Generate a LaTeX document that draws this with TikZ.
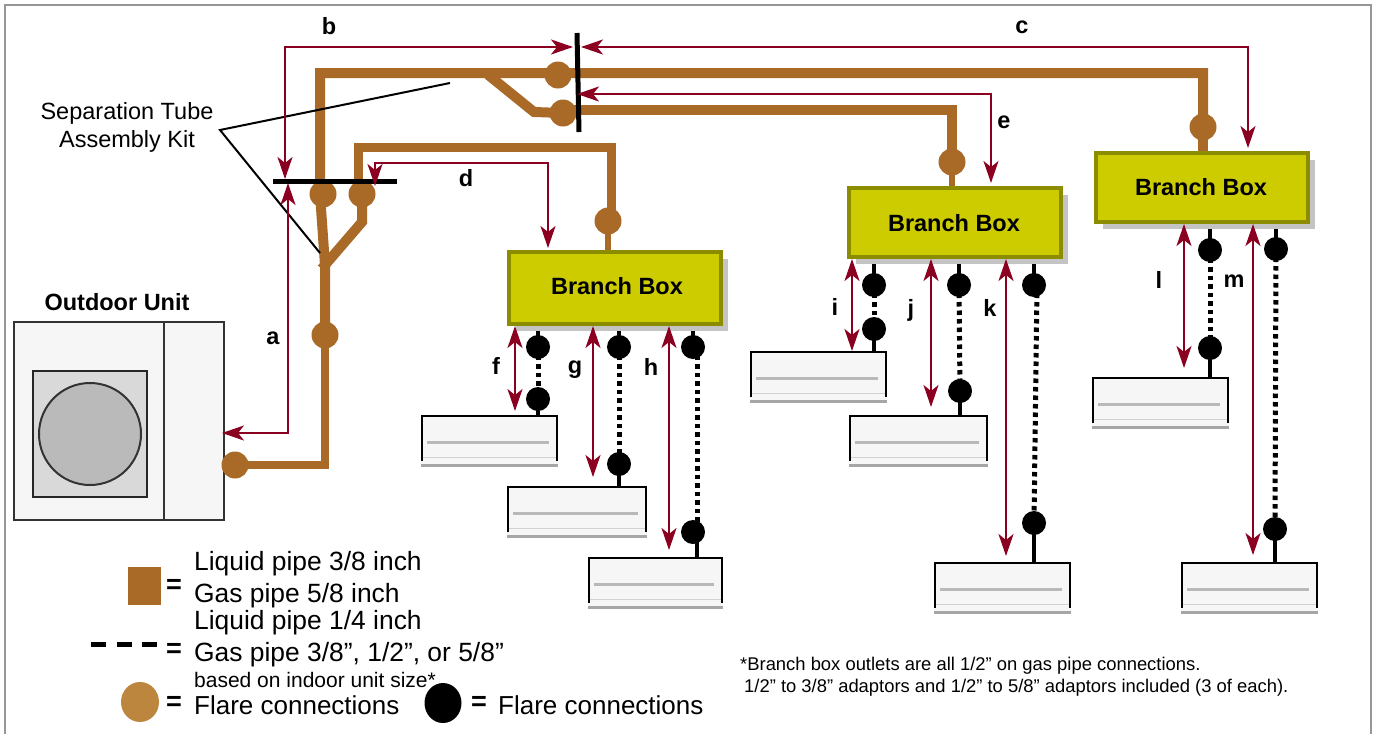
\documentclass[tikz,border=0pt]{standalone}
\usepackage{fontspec}
\setmainfont{Liberation Sans}
\usetikzlibrary{backgrounds,calc,arrows.meta,shadows,shapes.geometric}
\definecolor{pipebrown}{HTML}{A96A28}
\definecolor{flarebrown}{HTML}{BC863E}
\definecolor{dimred}{HTML}{8B0021}
\definecolor{boxfill}{HTML}{CCCC00}
\definecolor{boxedge}{HTML}{8C8C00}
\definecolor{shadowgray}{HTML}{C4C4C4}
\definecolor{unitfill}{HTML}{F6F6F6}
\definecolor{framegray}{HTML}{969696}
\tikzset{>={Stealth[length=22pt,width=15pt,inset=6pt]}}
\tikzset{
    pipe/.style={draw=pipebrown, line width=10pt, line cap=rect},
    thinpipe/.style={draw=pipebrown, line width=8pt},
    stubpipe/.style={draw=pipebrown, line width=6.5pt},
    flareb/.style={circle, fill=pipebrown, inner sep=0pt, minimum size=27pt},
    flarek/.style={circle, fill=black, inner sep=0pt, minimum size=24pt},
    port/.style={draw=black, line width=4.5pt},
    tubing/.style={draw=black, line width=5pt, dash pattern=on 4.5pt off 4pt},
    bar/.style={draw=black, line width=5pt},
    leader/.style={draw=black, line width=2pt},
    dim/.style={draw=dimred, line width=2.2pt},
    branchbox/.style={rectangle, fill=boxfill, draw=boxedge, line width=4pt, inner sep=0pt,
        minimum width=212pt, minimum height=69pt,
        drop shadow={shadow xshift=7pt, shadow yshift=-7pt, fill=shadowgray, opacity=1}},
    indoorunit/.style={rectangle, fill=unitfill, inner sep=0pt, anchor=north west,
        minimum width=137pt, minimum height=51pt,
        path picture={
            \draw[black, line width=2pt] ($(path picture bounding box.south west)+(1,-5)$) -- ($(path picture bounding box.north west)+(1,1)$) -- ($(path picture bounding box.north east)+(-1,1)$) -- ($(path picture bounding box.south east)+(-1,-5)$);
            \draw[gray!55, line width=2.5pt] ($(path picture bounding box.west)+(6,2)$) -- ($(path picture bounding box.east)+(-9,2)$);
            \draw[gray!35, line width=1pt] ($(path picture bounding box.south west)+(2,-9)$) -- ($(path picture bounding box.south east)+(-2,-9)$);
            \draw[gray!70, line width=3pt] ($(path picture bounding box.south west)+(0,-1)$) -- ($(path picture bounding box.south east)+(0,-1)$);
        }},
    boldlabel/.style={font=\bfseries\fontsize{23.5}{26}\selectfont, inner sep=0pt},
    plainlabel/.style={font=\fontsize{26.4}{29}\selectfont, inner sep=0pt, anchor=west},
    flarelabel/.style={font=\fontsize{26}{29}\selectfont, inner sep=0pt, anchor=west},
    eqsign/.style={font=\bfseries\fontsize{27}{30}\selectfont, inner sep=0pt},
    footnote/.style={font=\fontsize{18.4}{21}\selectfont, inner sep=0pt, anchor=west}
}
\begin{document}
\begin{tikzpicture}[x=1pt, y=-1pt]

    \useasboundingbox (0,0) rectangle (1379,734);
    \draw[framegray, line width=2.5pt] (5,734) -- (5,5) -- (1371,5) -- (1371,734);

    % outdoor unit
    \node[draw=black!80, fill=unitfill, line width=2pt, anchor=north west, inner sep=0pt, minimum width=210pt, minimum height=198pt] (outdoor) at (13,321) {};
    \draw[black!80, line width=2pt] (outdoor.north west -| 164,0) -- (outdoor.south west -| 164,0);
    \node[draw=black!85, fill=black!15, line width=2pt, anchor=north west, inner sep=0pt, minimum width=114pt, minimum height=126pt] (fanbox) at (32,370) {};
    \node[circle, draw=black!80, fill=black!27, line width=2pt, inner sep=0pt, minimum size=102pt] (fan) at (fanbox.center) {};
    \node[boldlabel] (outdoorlabel) at (117,302) {Outdoor Unit};

    % branch boxes
    \node[branchbox, minimum height=72pt] (boxa) at (615,288) {};
    \node[boldlabel] (boxatext) at (617,286) {Branch Box};
    \node[branchbox] (boxb) at (955,222.5) {};
    \node[boldlabel] (boxbtext) at (954,223) {Branch Box};
    \node[branchbox] (boxc) at (1202,187.5) {};
    \node[boldlabel] (boxctext) at (1201,187) {Branch Box};

    % indoor units
    \node[indoorunit] (unitf) at (421,415) {};
    \node[indoorunit, minimum width=140pt] (unitg) at (507,486) {};
    \node[indoorunit, minimum width=135pt] (unith) at (588,557) {};
    \node[indoorunit] (uniti) at (750,351) {};
    \node[indoorunit, minimum width=139pt] (unitj) at (849,415) {};
    \node[indoorunit] (unitk) at (934,562) {};
    \node[indoorunit] (unitl) at (1092,377) {};
    \node[indoorunit] (unitm) at (1181,562) {};

    % brown flares
    \node[flareb] (flarea) at (235,465) {};
    \node[flareb] (flarev) at (325,335) {};
    \node[flareb] (flareu) at (323,194) {};
    \node[flareb] (flarew) at (362,194) {};
    \node[flareb] (flaretop) at (558,75) {};
    \node[flareb] (flaremid) at (563,113) {};
    \node[flareb] (flared) at (608,221) {};
    \node[flareb] (flaree) at (952,162) {};
    \node[flareb] (flarec) at (1203,127) {};

    % black flares
    \node[flarek] (topf) at (538,347) {};
    \node[flarek] (lowf) at (538,399) {};
    \node[flarek] (topg) at (619,347) {};
    \node[flarek] (lowg) at (619,464) {};
    \node[flarek] (toph) at (693,347) {};
    \node[flarek] (lowh) at (693,532) {};
    \node[flarek] (topi) at (874,285) {};
    \node[flarek] (lowi) at (874,329) {};
    \node[flarek] (topj) at (959,285) {};
    \node[flarek] (lowj) at (960,391) {};
    \node[flarek] (topk) at (1034,285) {};
    \node[flarek] (lowk) at (1034,523) {};
    \node[flarek] (topl) at (1210,250) {};
    \node[flarek] (lowl) at (1210,348) {};
    \node[flarek] (topm) at (1276,249) {};
    \node[flarek] (lowm) at (1275,529) {};

    % points on the pipes and the two bars
    \coordinate (bendlow) at (325,465);
    \coordinate (forklow) at (325,265);
    \coordinate (bendtop) at (320,73);
    \coordinate (forkup) at (362,222);
    \coordinate (splitstart) at (492,78);
    \coordinate (splitend) at (534,112);
    \coordinate (rightc) at (1203,73);
    \coordinate (righte) at (952,110);
    \coordinate (dbendl) at (358,147);
    \coordinate (dbendr) at (611,147);
    \coordinate (vbartop) at (577,33);
    \coordinate (vbarlow) at (579,132);
    \coordinate (hbarl) at (273,181);
    \coordinate (hbarr) at (397,181);
    \coordinate (leadtop) at (450,83);
    \coordinate (leadmid) at (220,130);
    \coordinate (leadlow) at (320,253);

    \begin{scope}[on background layer]
        \draw[thinpipe] (flarea.center) -- (bendlow) -- (flarev.center);
        \draw[pipe] (flarev.center) -- (forklow) -- (bendtop |- flareu.center) -- (bendtop) -- (rightc) -- (rightc |- flarec.center);
        \draw[pipe] (splitstart) -- (splitend) -- (flaremid.center);
        \draw[pipe] (flaremid.center |- righte) -- (righte) -- (righte |- flaree.center);
        \draw[pipe] (flarew.center) -- (forkup) -- (forklow);
        \draw[pipe, line width=9pt] (dbendl |- flarew.center) -- (dbendl) -- (dbendr) -- (dbendr |- flared.center);
        \draw[stubpipe] (flared.center) -- (flared.center |- boxa.north);
        \draw[stubpipe] (flaree.center) -- (flaree.center |- boxb.north);
        \draw[pipe, line cap=butt] (flarec.center) -- (flarec.center |- boxc.north);

        \draw[port] (topf |- boxa.south) -- (topf.center);
        \draw[tubing] (topf.center) -- (lowf.center);
        \draw[port] (lowf.center) -- (lowf |- unitf.north);
        \draw[port] (topg |- boxa.south) -- (topg.center);
        \draw[tubing] (topg.center) -- (lowg.center);
        \draw[port] (lowg.center) -- (lowg |- unitg.north);
        \draw[port] (toph |- boxa.south) -- (toph.center);
        \draw[tubing] ($(toph.center)+(4,0)$) -- ($(lowh.center)+(4,0)$);
        \draw[port] ($(lowh.center)+(4,0)$) -- ($(lowh |- unith.north)+(4,0)$);
        \draw[port] (topi |- boxb.south) -- (topi.center);
        \draw[tubing] (topi.center) -- (lowi.center);
        \draw[port] (lowi.center) -- (lowi |- uniti.north);
        \draw[port] (topj |- boxb.south) -- (topj.center);
        \draw[tubing] (topj.center) -- (lowj.center);
        \draw[port] (lowj.center) -- (lowj |- unitj.north);
        \draw[port] (topk |- boxb.south) -- (topk.center);
        \draw[tubing] ($(topk.center)+(3,0)$) -- ($(lowk.center)+(0,0)$);
        \draw[port] (lowk.center) -- (lowk |- unitk.north);
        \draw[port] (topl |- boxc.south) -- (topl.center);
        \draw[tubing] (topl.center) -- (lowl.center);
        \draw[port] (lowl.center) -- (lowl |- unitl.north);
        \draw[port] (topm |- boxc.south) -- (topm.center);
        \draw[tubing] (topm.center) -- (lowm.center);
        \draw[port] (lowm.center) -- (lowm |- unitm.north);
    \end{scope}

    \draw[bar] (vbartop) -- (vbarlow);
    \draw[bar] (hbarl) -- (hbarr);
    \draw[leader] (leadtop) -- (leadmid) -- (leadlow);

    % dimension arrows
    \coordinate (tipa) at (222,433);
    \coordinate (bara) at (288,183);
    \coordinate (tipb) at (285,179);
    \coordinate (cornerb) at (285,47);
    \coordinate (tipbr) at (573,47);
    \coordinate (tipc) at (581,47);
    \coordinate (tipcd) at (1248,148);
    \coordinate (tipd) at (375,186);
    \coordinate (cornerd) at (375,163);
    \coordinate (tipdd) at (548,248);
    \coordinate (tipe) at (577,94);
    \coordinate (tiped) at (991,183);

    \draw[dim, <->] (tipa) -- (tipa -| bara) -- (bara);
    \draw[dim, <->] (tipb) -- (cornerb) -- (tipbr);
    \draw[dim, <->] (tipc) -- (tipc -| tipcd) -- (tipcd);
    \draw[dim, <->] (tipd) -- (cornerd) -- (tipdd |- cornerd) -- (tipdd);
    \draw[dim, <->] (tipe) -- (tipe -| tiped) -- (tiped);

    \coordinate (endf) at (515,411);
    \coordinate (endg) at (593,477);
    \coordinate (endh) at (669,550);
    \coordinate (endi) at (852,351);
    \coordinate (endj) at (931,407);
    \coordinate (endk) at (1006,556);
    \coordinate (endl) at (1184,368);
    \coordinate (endm) at (1253,555);
    \draw[dim, <->] (boxa.south -| endf) -- (endf);
    \draw[dim, <->] (boxa.south -| endg) -- (endg);
    \draw[dim, <->] (boxa.south -| endh) -- (endh);
    \draw[dim, <->] (boxb.south -| endi) -- (endi);
    \draw[dim, <->] (boxb.south -| endj) -- (endj);
    \draw[dim, <->] (boxb.south -| endk) -- (endk);
    \draw[dim, <->] (boxc.south -| endl) -- (endl);
    \draw[dim, <->] (boxc.south -| endm) -- (endm);

    % letters
    \node[boldlabel] (la) at (273,338) {a};
    \node[boldlabel] (lb) at (329,26) {b};
    \node[boldlabel] (lc) at (1022,27) {c};
    \node[boldlabel] (ld) at (466,178) {d};
    \node[boldlabel] (le) at (1004,122) {e};
    \node[boldlabel] (lf) at (496,366) {f};
    \node[boldlabel] (lg) at (575,370) {g};
    \node[boldlabel] (lh) at (651,367) {h};
    \node[boldlabel] (li) at (835,307) {i};
    \node[boldlabel] (lj) at (911,310) {j};
    \node[boldlabel] (lk) at (990,308) {k};
    \node[boldlabel] (ll) at (1159,280) {l};
    \node[boldlabel] (lm) at (1234,281) {m};

    \node[font=\fontsize{23.5}{28}\selectfont, align=center, inner sep=0pt] (kitlabel) at (127,127) {Separation Tube\\Assembly Kit};

    % legend
    \node[fill=pipebrown, inner sep=0pt, minimum width=33pt, minimum height=38pt] (legpipe) at (144,586) {};
    \node[eqsign] (eqa) at (174,586) {=};
    \node[plainlabel] (liqa) at (194,564) {Liquid pipe 3/8 inch};
    \node[plainlabel] (gasa) at (194,596) {Gas pipe 5/8 inch};
    \node[plainlabel] (liqb) at (194,623) {Liquid pipe 1/4 inch};
    \node[plainlabel] (gasb) at (194,655) {Gas pipe 3/8”, 1/2”, or 5/8”};
    \coordinate (legdasha) at (91,644);
    \coordinate (legdashb) at (157,644);
    \draw[black, line width=5pt, dash pattern=on 15pt off 10.5pt] (legdasha) -- (legdashb);
    \node[eqsign] (eqb) at (174,650) {=};
    \node[plainlabel, font=\fontsize{21}{24}\selectfont] (sizenote) at (194,680) {based on indoor unit size*};
    \node[ellipse, fill=flarebrown, inner sep=0pt, minimum width=38pt, minimum height=40pt] (legflareb) at (140,702) {};
    \node[eqsign] (eqc) at (174,703) {=};
    \node[flarelabel] (flaretxta) at (194,705) {Flare connections};
    \node[ellipse, fill=black, inner sep=0pt, minimum width=37pt, minimum height=40pt] (legflarek) at (443,703) {};
    \node[eqsign] (eqd) at (479,703) {=};
    \node[flarelabel] (flaretxtb) at (498,705) {Flare connections};

    % note
    \node[footnote] (notea) at (740,666) {*Branch box outlets are all 1/2” on gas pipe connections.};
    \node[footnote] (noteb) at (744,688) {1/2” to 3/8” adaptors and 1/2” to 5/8” adaptors included (3 of each).};

\end{tikzpicture}
\end{document}
